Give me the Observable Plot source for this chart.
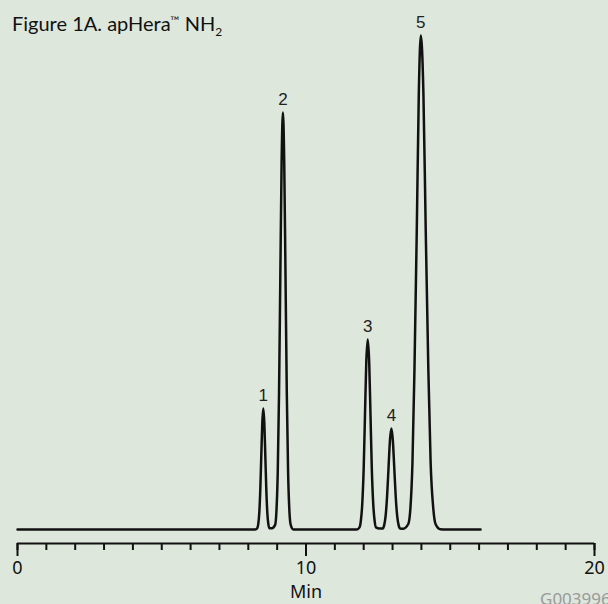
<!DOCTYPE html>
<html>
<head>
<meta charset="utf-8">
<script src="https://cdn.jsdelivr.net/npm/d3@7"></script>
<script src="https://cdn.jsdelivr.net/npm/@observablehq/plot@0.6"></script>
<style>
  html, body { margin: 0; padding: 0; background: #dde7dc; overflow: hidden; }
  #wrap { position: relative; width: 608px; height: 604px; }
  #title { position: absolute; left: 12px; top: 11px; font-family: "Lato", sans-serif; font-size: 20px; color: #111; white-space: nowrap; z-index: 2; }
  #title sub { font-size: 12px; vertical-align: -5px; }
  #title .tm { font-size: 12px; vertical-align: 6px; }
  #caption { position: absolute; left: 540px; top: 587px; font-family: "Noto Sans", sans-serif; font-size: 17px; color: #9a9a9a; white-space: nowrap; }
  #chart { position: absolute; left: 0; top: 0; }
</style>
</head>
<body>
<div id="wrap">
  <div id="chart"></div>
  <div id="title">Figure 1A. apHera<span class="tm">™</span> NH<sub>2</sub></div>
  <div id="caption">G003996</div>
</div>
<script>
// Chromatogram trace (time in min, detector signal in arbitrary units)
const traceTimes = [
  0, 8.24,
  8.31, 8.345, 8.38, 8.415, 8.45, 8.485, 8.52, 8.555, 8.59, 8.625, 8.66, 8.695, 8.73,
  8.82,
  8.93, 8.975, 9.02, 9.065, 9.11, 9.155, 9.20, 9.245, 9.29, 9.335, 9.38, 9.425, 9.47, 9.56,
  11.76,
  11.855, 11.90, 11.95, 12.00, 12.045, 12.09, 12.14, 12.19, 12.235, 12.28, 12.33, 12.38, 12.425,
  12.55,
  12.66, 12.71, 12.76, 12.81, 12.86, 12.91, 12.96, 13.01, 13.06, 13.11, 13.16, 13.21, 13.26,
  13.37,
  13.545, 13.62, 13.69, 13.76, 13.84, 13.91, 13.98, 14.07, 14.15, 14.24, 14.32, 14.41, 14.49, 14.66, 14.83,
  16.05
];
const traceSignal = [
  0, 0,
  1.3, 5.3, 16.4, 39.3, 73.4, 106.8, 121, 106.8, 73.4, 39.3, 16.4, 5.3, 1.3,
  1.2,
  4.6, 18.3, 56.4, 135.4, 252.9, 368.0, 417, 368.0, 252.9, 135.4, 56.4, 18.3, 4.6, 0.1,
  0,
  2.1, 8.3, 25.7, 61.7, 115.2, 167.7, 190, 167.7, 115.2, 61.7, 25.7, 8.3, 2.1,
  1.0,
  1.1, 4.4, 13.7, 32.8, 61.3, 89.1, 101, 89.1, 61.3, 32.8, 13.7, 4.4, 1.1,
  0.8,
  5.5, 21.7, 66.8, 160.4, 299.6, 436.0, 494, 436.0, 299.6, 160.4, 66.8, 21.7, 5.5, 0.2, 0,
  0
];

// Peak annotations
const peakLabels = ["1", "2", "3", "4", "5"];
const peakTimes = [8.52, 9.20, 12.14, 12.96, 13.98];
const peakHeights = [121, 417, 190, 101, 494];

// Axis ticks
const minorTicks = d3.range(0, 21, 1);
const majorTicks = [0, 10, 20];
const axisLabel = "Min";

const trace = traceTimes.map((t, i) => ({time: t, signal: traceSignal[i]}));
const peaks = peakLabels.map((l, i) => ({label: l, time: peakTimes[i], height: peakHeights[i]}));

const chart = Plot.plot({
  width: 608,
  height: 604,
  marginLeft: 17,
  marginRight: 14,
  marginTop: 16,
  marginBottom: 61,
  x: {domain: [0, 20], label: null},
  y: {domain: [-14, 513], axis: null},
  style: {background: "transparent", overflow: "visible", color: "#111"},
  marks: [
    Plot.ruleY([-14], {stroke: "#111", strokeWidth: 2}),
    Plot.axisX({ticks: minorTicks, tickSize: 7, tickFormat: () => "", strokeWidth: 2, stroke: "#111", label: null}),
    Plot.axisX({ticks: majorTicks, tickSize: 13, tickPadding: 5, strokeWidth: 2, stroke: "#111",
      fontSize: 18, fontFamily: "Noto Sans", fill: "#111", label: null}),
    Plot.text([axisLabel], {x: 10, y: -14, text: d => d, dy: 49, fontSize: 18, fontFamily: "Noto Sans", fill: "#111"}),
    Plot.line(trace, {x: "time", y: "signal", curve: "monotone-x", stroke: "#111", strokeWidth: 2.5, strokeLinejoin: "round"}),
    Plot.text(peaks, {x: "time", y: "height", text: "label", dy: -8, lineAnchor: "bottom",
      fontSize: 17, fontFamily: "Liberation Sans", fill: "#222"})
  ]
});
document.getElementById("chart").appendChild(chart);
</script>
</body>
</html>
